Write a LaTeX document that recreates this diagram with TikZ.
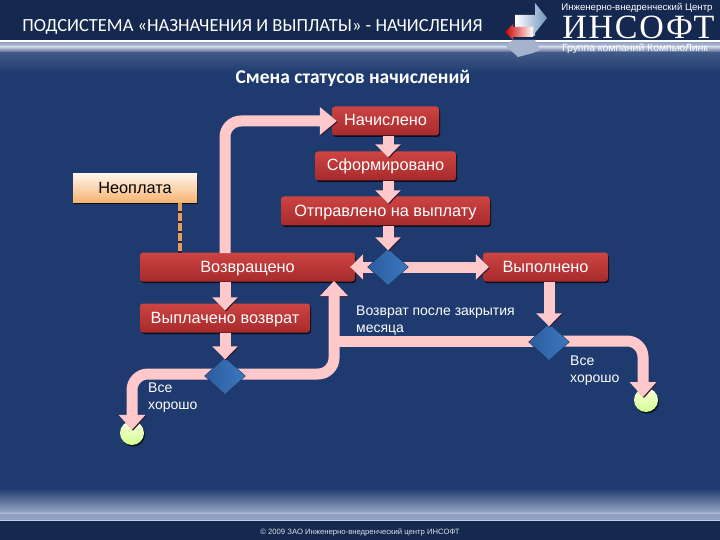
\documentclass[tikz,border=0pt]{standalone}
\usepackage{fontspec}
\setmainfont{Liberation Sans}
\newfontfamily\titlefont{Carlito}
\newfontfamily\logofont[LetterSpace=5]{Liberation Serif}
\usetikzlibrary{arrows.meta, positioning, shapes.geometric}
\definecolor{bgmid}{HTML}{1E3A6E}
\definecolor{bgdark}{HTML}{15284F}
\definecolor{bandpale}{HTML}{8FA0C2}
\definecolor{bandlight}{HTML}{C4CCDE}
\definecolor{logosteel}{HTML}{6F94BD}
\definecolor{boxred}{HTML}{A82A2C}
\definecolor{boxtop}{HTML}{CC4442}
\definecolor{flowpink}{HTML}{FFC9CB}
\definecolor{flowedge}{HTML}{3A1B33}
\definecolor{noteorange}{HTML}{F6B26F}
\definecolor{branchleft}{HTML}{2C5C9E}
\definecolor{branchright}{HTML}{3B78C0}
\tikzset{
  shadowed/.style={preaction={fill=black!75!bgmid, transform canvas={shift={(1pt,-1.5pt)}}}},
  statebox/.style={rounded corners=3pt, minimum height=29pt, inner sep=0pt, text=white,
    text height=12pt, text depth=2pt,
    font=\fontsize{16.3}{16}\selectfont, top color=boxtop, bottom color=boxred, shadowed},
  notebox/.style={minimum width=124pt, minimum height=29pt, inner sep=0pt,
    text height=12pt, text depth=2pt,
    top color=orange!8, bottom color=noteorange, font=\fontsize{16.3}{16}\selectfont, shadowed},
  branch/.style={diamond, minimum width=41pt, minimum height=37pt, inner sep=0pt, aspect=1.1,
    left color=branchleft, right color=branchright, draw=bgdark, line width=.3pt},
  ghost/.style={diamond, minimum width=41pt, minimum height=37pt, inner sep=0pt, aspect=1.1},
  finish/.style={circle, minimum size=24pt, inner sep=0pt, top color=green!10!yellow!12,
    bottom color=green!40!yellow!45, shadowed},
  flow/.style={line width=11pt, rounded corners=16pt, draw=flowpink,
    -{Triangle[width=25pt, length=13pt]},
    preaction={draw=flowedge, transform canvas={shift={(1pt,-1pt)}}}},
  caption/.style={text=white, align=left, font=\fontsize{14}{17}\selectfont, inner sep=0pt, anchor=north west}
}
\begin{document}
\begin{tikzpicture}[x=1pt, y=-1pt]
  % background
  \fill[bgmid] (0,0) rectangle (720,540);
  \fill[bgdark] (0,0) rectangle (720,40);
  \shade[top color=bandpale, bottom color=bandlight] (0,42) rectangle (720,47);
  \shade[top color=bandlight, bottom color=bgmid!70!bandpale] (0,47) rectangle (720,53);
  \shade[top color=bgmid!70!bandpale, bottom color=bgmid] (0,53) rectangle (720,73);
  \fill[white] (0,40) rectangle (720,42);
  \shade[top color=bgmid, bottom color=bandpale] (0,488) rectangle (720,511);
  \shade[top color=bandpale, bottom color=bandlight] (0,511) rectangle (720,514);
  \fill[bandpale] (0,514) rectangle (720,520);
  \fill[white!75!bgmid] (0,520) rectangle (720,521);
  \fill[bgdark] (0,521) rectangle (720,540);
  \useasboundingbox (0,0) rectangle (720,540);
  % heading
  \node[text=white, font=\titlefont\fontsize{18.5}{19}\selectfont, inner sep=0pt] (heading) at (252.5,27)
    {ПОДСИСТЕМА «НАЗНАЧЕНИЯ И ВЫПЛАТЫ» - НАЧИСЛЕНИЯ};
  \node[text=white, font=\titlefont\bfseries\fontsize{19.5}{20}\selectfont, inner sep=0pt] (subhead) at (353,78)
    {Смена статусов начислений};
  % logo
  \fill[bandpale!80!white] (505,45) -- (513,40) -- (535,40) -- (540,50) -- (533,53) -- (518,57) -- cycle;
  \shade[left color=white, right color=logosteel] (515,15) -- (535,15) -- (535,3) -- (547,18) -- (535,33) -- (535,36) -- (515,36) -- cycle;
  \shade[left color=red!80!black, right color=white] (513,27) -- (513,24) -- (505,32) -- (513,40) -- (513,37) -- (533,37) -- (533,27) -- cycle;
  \node[text=white, font=\fontsize{9.6}{10}\selectfont, inner sep=0pt] (logotop) at (637,8) {Инженерно-внедренческий Центр};
  \node[text=white, font=\logofont\fontsize{34}{34}\selectfont, inner sep=0pt, text height=22pt, text depth=0pt] (logoname) at (638.5,28) {ИНСОФТ};
  \node[text=white, font=\fontsize{10.4}{10}\selectfont, inner sep=0pt] (logosub) at (635,49) {Группа компаний КомпьюЛинк};
  \node[text=white!85!bgmid, font=\fontsize{7.7}{8}\selectfont, inner sep=0pt] (copyright) at (360,532) {© 2009 ЗАО Инженерно-внедренческий центр ИНСОФТ};
  % states
  \node[statebox, minimum width=107pt] (nachisleno) at (385.5,121) {Начислено};
  \node[statebox, minimum width=141pt] (sform) at (385.5,166) {Сформировано};
  \node[statebox, minimum width=209pt] (otprav) at (385.5,211) {Отправлено на выплату};
  \node[statebox, minimum width=215pt] (vozvr) at (247.5,267) {Возвращено};
  \node[statebox, minimum width=125pt] (vypoln) at (545.5,267) {Выполнено};
  \node[statebox, minimum width=170pt] (vyplach) at (225,318) {Выплачено возврат};
  \node[notebox] (neopl) at (135,188.5) {Неоплата};
  \node[finish] (endleft) at (132,433) {};
  \node[finish] (endright) at (646,400) {};
  \coordinate (midvozvr) at (225,253);
  \coordinate (backjoin) at (334,341);
  \coordinate (twoband) at (225,374);
  \coordinate (threeband) at (549,341);
  % branches placed first so that their outgoing flows can start from them
  \node[ghost] (splitone) at (388,267) {};
  \node[ghost] (splittwo) at (225,376) {};
  \node[ghost] (splitthree) at (549,342) {};
  % note link
  \draw[line width=4pt, draw=flowedge] (180,203) -- (180,253);
  \draw[line width=4pt, draw=noteorange!90!black, dash pattern=on 8pt off 2pt] (180,203) -- (180,253);
  % outgoing flows, under the branches
  \draw[flow, shorten >=-5pt, -{Triangle[width=27pt, length=17pt]}] (midvozvr) |- (nachisleno.west);
  \draw[flow, shorten >=-5pt] (splitone.center) -- (vozvr.east);
  \draw[flow, shorten >=-6pt] (splitone.center) -- (vypoln.west);
  \draw[flow, shorten >=-9pt, -{Triangle[width=26pt, length=15pt]}] (twoband) -| (endleft.north);
  \draw[flow, -{Triangle[width=27pt, length=15pt]}] (twoband) -| (334,281);
  \draw[flow, -] (threeband) -- (backjoin);
  \draw[flow, -{Triangle[width=26pt, length=15pt]}] (threeband) -| (643,397);
  % branches on top
  \node[branch] at (splitone) {};
  \node[branch] at (splittwo) {};
  \node[branch] at (splitthree) {};
  % incoming flows
  \draw[flow, shorten >=-6pt] (nachisleno.south -| splitone) -- (sform.north -| splitone);
  \draw[flow, shorten >=-7pt] (sform.south -| splitone) -- (otprav.north -| splitone);
  \draw[flow, shorten >=-2pt] (otprav.south -| splitone) -- (splitone.north);
  \draw[flow, shorten >=-7pt] (vozvr.south -| vyplach) -- (vyplach.north);
  \draw[flow, shorten >=-2pt] (vyplach.south) -- (splittwo.north);
  \draw[flow, shorten >=-3pt] (vypoln.south -| splitthree) -- (splitthree.north);
  % captions
  \node[caption] (capmonth) at (356,306) {Возврат после закрытия\\месяца};
  \node[caption] (capleft) at (148,383) {Все\\хорошо};
  \node[caption] (capright) at (570,356) {Все\\хорошо};
\end{tikzpicture}
\end{document}
